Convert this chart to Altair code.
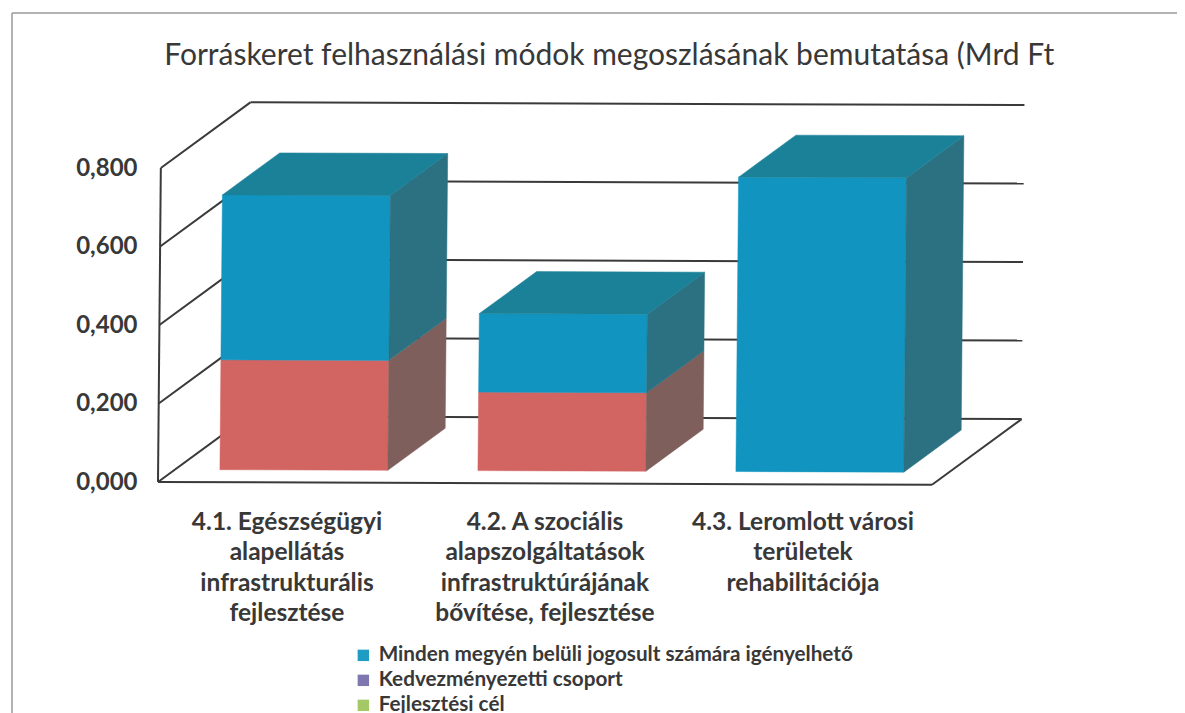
import altair as alt
import pandas as pd

# ---- values
categories = [
    "4.1. Egészségügyi\nalapellátás\ninfrastrukturális\nfejlesztése",
    "4.2. A szociális\nalapszolgáltatások\ninfrastruktúrájának\nbővítése, fejlesztése",
    "4.3. Leromlott városi\nterületek\nrehabilitációja",
]
lower_values = [0.28, 0.20, 0.0]      # red segment
upper_values = [0.42, 0.20, 0.75]     # blue segment
ticks = [0.0, 0.2, 0.4, 0.6, 0.8]
legend_names = [
    "Minden megyén belüli jogosult számára igényelhető",
    "Kedvezményezetti csoport",
    "Fejlesztési cél",
]
legend_colors = ["#1f9cc3", "#7f78b0", "#a4c866"]
title = "Forráskeret felhasználási módok megoszlásának bemutatása (Mrd Ft"

# ---- oblique projection of the 3D box
S, V = 258.0, 392.5        # px per category, px per unit value
DX, DY = 89.0, 66.0        # px of the full depth
SKEW_X, SKEW_Y = 0.009, 0.0036   # the scan is slightly rotated
BAR_START, BAR_W = 0.174, 0.651
D0, D1 = 0.19, 0.83
W, H = 872, 613
TOP_V = (482 - 92) / V
BOT_V = -(92 + H - 482) / V


def proj(c, v, d):
    x = c * S + d * DX
    y = v * V + d * DY
    return (x + SKEW_X * y) / S, (y - SKEW_Y * x) / V


def quad(name, fill, pts):
    """Convex polygon as area rows (x, lower, upper)."""
    n = len(pts)
    rows = []
    for x in sorted(p[0] for p in pts):
        ys = []
        for i in range(n):
            (x1, y1), (x2, y2) = pts[i], pts[(i + 1) % n]
            if min(x1, x2) <= x <= max(x1, x2):
                if x1 == x2:
                    ys += [y1, y2]
                else:
                    ys.append(y1 + (y2 - y1) * (x - x1) / (x2 - x1))
        rows.append(dict(poly=name, fill=fill, x=x, y=min(ys), y2=max(ys)))
    return rows


BLUE = ("#1195c0", "#1b8199", "#2b7181")
RED = ("#d26562", "#d26562", "#7f5f5c")

areas = []
for i in range(3):
    c0, c1 = i + BAR_START, i + BAR_START + BAR_W
    base = 0.0
    for seg_i, (val, cols) in enumerate(((lower_values[i], RED), (upper_values[i], BLUE))):
        if val <= 0:
            continue
        v0, v1 = base, base + val
        areas += quad(f"f{i}{seg_i}", cols[0], [proj(c0, v0, D0), proj(c1, v0, D0), proj(c1, v1, D0), proj(c0, v1, D0)])
        areas += quad(f"s{i}{seg_i}", cols[2], [proj(c1, v0, D0), proj(c1, v0, D1), proj(c1, v1, D1), proj(c1, v1, D0)])
        base = v1
    areas += quad(f"t{i}", BLUE[1], [proj(c0, base, D0), proj(c1, base, D0), proj(c1, base, D1), proj(c0, base, D1)])
areas = pd.DataFrame(areas)

lines = []


def seg(name, a, b):
    for p in (a, b):
        x, y = proj(*p)
        lines.append(dict(line=name, x=x, y=y))


ncat = len(categories)
seg("axis_front", (0, ticks[0], 0), (0, ticks[-1], 0))
seg("floor_front", (0, 0, 0), (ncat, 0, 0))
seg("floor_side", (ncat, 0, 0), (ncat, 0, 1))
for t in ticks:
    seg(f"d{t}", (0, t, 0), (0, t, 1))
    seg(f"b{t}", (0, t, 1), (ncat, t, 1))
lines = pd.DataFrame(lines)

labels = pd.DataFrame(
    dict(text=categories, x=[i + 0.5 for i in range(ncat)], y=[-0.073] * ncat)
)
legend_df = pd.DataFrame(dict(series=legend_names, x=[0.0] * 3, y=[0.0] * 3))

x_scale = alt.Scale(domain=[0, W / S], nice=False, zero=False)
y_scale = alt.Scale(domain=[BOT_V, TOP_V], nice=False, zero=False)
X = alt.X("x:Q", scale=x_scale, axis=None)

FONT = "Lato"
INK = "#383838"

frame = alt.Chart(pd.DataFrame(dict(a=[0]))).mark_rule(color="#9a9a9a", strokeWidth=1.5)
frame_left = frame.encode(x=alt.value(-146), y=alt.value(-79), y2=alt.value(625))
frame_top = frame.encode(x=alt.value(-146), x2=alt.value(1020), y=alt.value(-79))

grid = alt.Chart(lines).mark_line(color="#3a3a3a", strokeWidth=2).encode(
    x=X,
    y=alt.Y(
        "y:Q",
        scale=y_scale,
        title=None,
        axis=alt.Axis(
            values=ticks,
            labelExpr="replace(format(datum.value, '.3f'), '.', ',')",
            grid=False,
            domain=False,
            ticks=False,
            labelPadding=21,
            labelFont=FONT,
            labelFontSize=24,
            labelFontWeight="bold",
            labelColor=INK,
        ),
    ),
    detail="line:N",
)

faces = alt.Chart(areas).mark_area(strokeWidth=0.5, line=False, opacity=1).encode(
    x=X,
    y=alt.Y("y:Q", scale=y_scale),
    y2="y2:Q",
    fill=alt.Fill("fill:N", scale=None),
    stroke=alt.Stroke("fill:N", scale=None),
    detail="poly:N",
)

cat_text = alt.Chart(labels).mark_text(
    font=FONT, fontSize=24.5, fontWeight="bold", color=INK,
    lineBreak="\n", lineHeight=30.5, baseline="top", align="center",
).encode(x=X, y=alt.Y("y:Q", scale=y_scale), text="text:N")

legend_layer = alt.Chart(legend_df).mark_square(size=0, opacity=0).encode(
    x=X,
    y=alt.Y("y:Q", scale=y_scale),
    color=alt.Color(
        "series:N",
        sort=legend_names,
        scale=alt.Scale(domain=legend_names, range=legend_colors),
        legend=alt.Legend(
            title=None,
            orient="none",
            legendX=195,
            legendY=553,
            symbolType="square",
            symbolSize=130,
            symbolOpacity=1,
            symbolStrokeWidth=0,
            labelFont=FONT,
            labelFontSize=20.7,
            labelFontWeight="bold",
            labelColor=INK,
            labelLimit=700,
            rowPadding=3,
            labelOffset=5,
        ),
    ),
)

chart = (
    alt.layer(frame_left, frame_top, grid, faces, cat_text, legend_layer)
    .resolve_scale(y="shared", x="shared")
    .properties(
        width=W,
        height=H,
        padding={"left": 150, "top": 84, "right": 147, "bottom": 9},
        autosize=alt.AutoSizeParams(type="none"),
        background="#ffffff",
        title=alt.TitleParams(
            title, anchor="start", dx=153, offset=0, dy=59, font=FONT, fontSize=30, fontWeight="normal", color=INK
        ),
    )
    .configure_view(stroke=None)
)

chart.save("out.html", embed_options={"renderer": "svg", "actions": False})
